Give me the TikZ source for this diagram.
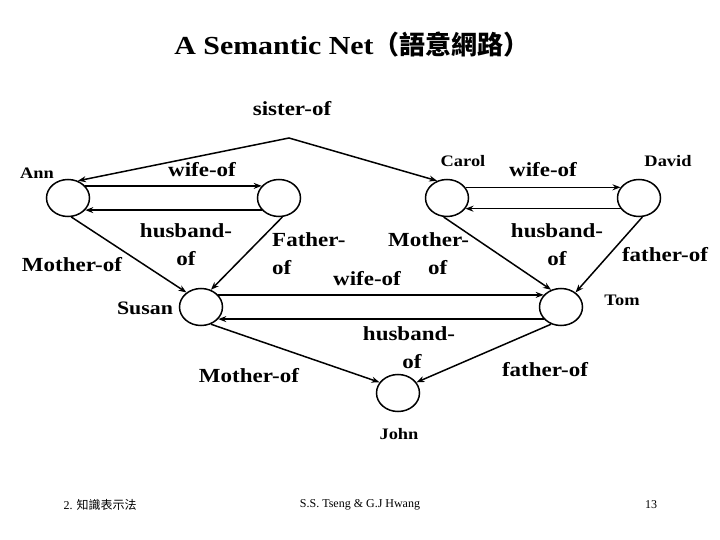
\documentclass[tikz,border=0pt]{standalone}
\usepackage{fontspec}
\setmainfont{Liberation Serif}
\newfontfamily\lab[FakeStretch=1.15]{Liberation Serif}
\newfontfamily\cjk{Noto Sans CJK TC}
\usetikzlibrary{shapes.geometric,arrows.meta}
\begin{document}
\begin{tikzpicture}[x=1pt,y=-1pt,
  ent/.style={draw,line width=1.5pt,ellipse,minimum width=43pt,minimum height=37pt,inner sep=0pt},
  rel/.style={font=\lab\bfseries\fontsize{20}{28}\selectfont,align=center,inner sep=0pt},
  nm/.style={font=\lab\bfseries\fontsize{16}{17}\selectfont,inner sep=0pt},
  ar/.style={line width=1.5pt,-{Stealth[length=8pt,width=6pt]}},
  foot/.style={font=\fontsize{12}{13}\selectfont,inner sep=0pt}]
\useasboundingbox (0,0) rectangle (720,540);
\node[font=\lab\bfseries\fontsize{26}{27}\selectfont] (title) at (352,45) {A Semantic Net{\cjk（語意網路）}};
\node[ent] (ann) at (68,198) {};
\node[ent] (anh) at (279,198) {};
\node[ent] (carol) at (447,198) {};
\node[ent] (david) at (639,198) {};
\node[ent] (susan) at (201,307) {};
\node[ent] (tom) at (561,307) {};
\node[ent] (john) at (398,393) {};
\coordinate (apex) at (289,138);
\draw[line width=1.5pt,{Stealth[length=8pt,width=6pt]}-{Stealth[length=8pt,width=6pt]}] (ann.60) -- (apex) -- (carol.120);
\draw[ar] (ann.35) -- (anh.145);
\draw[ar] (anh.-145) -- (ann.-35);
\draw[ar] (carol.30) -- (david.150);
\draw[ar] (david.-150) -- (carol.-30);
\draw[ar] (susan.35) -- (tom.145);
\draw[ar] (tom.-145) -- (susan.-35);
\draw[ar] (ann.-80) -- (susan.135);
\draw[ar] (anh.-80) -- (susan.60);
\draw[ar] (carol.-100) -- (tom.120);
\draw[ar] (david.-80) -- (tom.45);
\draw[ar] (susan.-60) -- (john.150);
\draw[ar] (tom.-120) -- (john.30);
\node[rel] (l1) at (292,109) {sister-of};
\node[nm] (l2) at (37,173) {Ann};
\node[rel] (l3) at (202,170) {wife-of};
\node[nm] (l4) at (463,161) {Carol};
\node[rel] (l5) at (543,170) {wife-of};
\node[nm] (l6) at (668,161) {David};
\node[rel] (l7) at (186,245) {husband-\\of};
\node[rel,align=left,anchor=west] (l8) at (272,254) {Father-\\of};
\node[rel] (l9) at (72,265) {Mother-of};
\node[rel,align=left,anchor=west] (l10) at (388,254) {Mother-\\\hspace*{40pt}of};
\node[rel] (l11) at (557,245) {husband-\\of};
\node[rel] (l12) at (665,255) {father-of};
\node[rel] (l13) at (367,279) {wife-of};
\node[nm,font=\lab\bfseries\fontsize{19}{20}\selectfont] (l14) at (145,308) {Susan};
\node[nm] (l15) at (622,300) {Tom};
\node[rel] (l16) at (409,348) {husband-\\\hspace*{6pt}of};
\node[rel] (l17) at (249,376) {Mother-of};
\node[rel] (l18) at (545,370) {father-of};
\node[nm] (l19) at (399,434) {John};
\node[foot] (f1) at (100,505) {2. {\cjk 知識表示法}};
\node[foot] (f2) at (360,505) {S.S. Tseng \& G.J Hwang};
\node[foot] (f3) at (651,505) {13};
\end{tikzpicture}
\end{document}
